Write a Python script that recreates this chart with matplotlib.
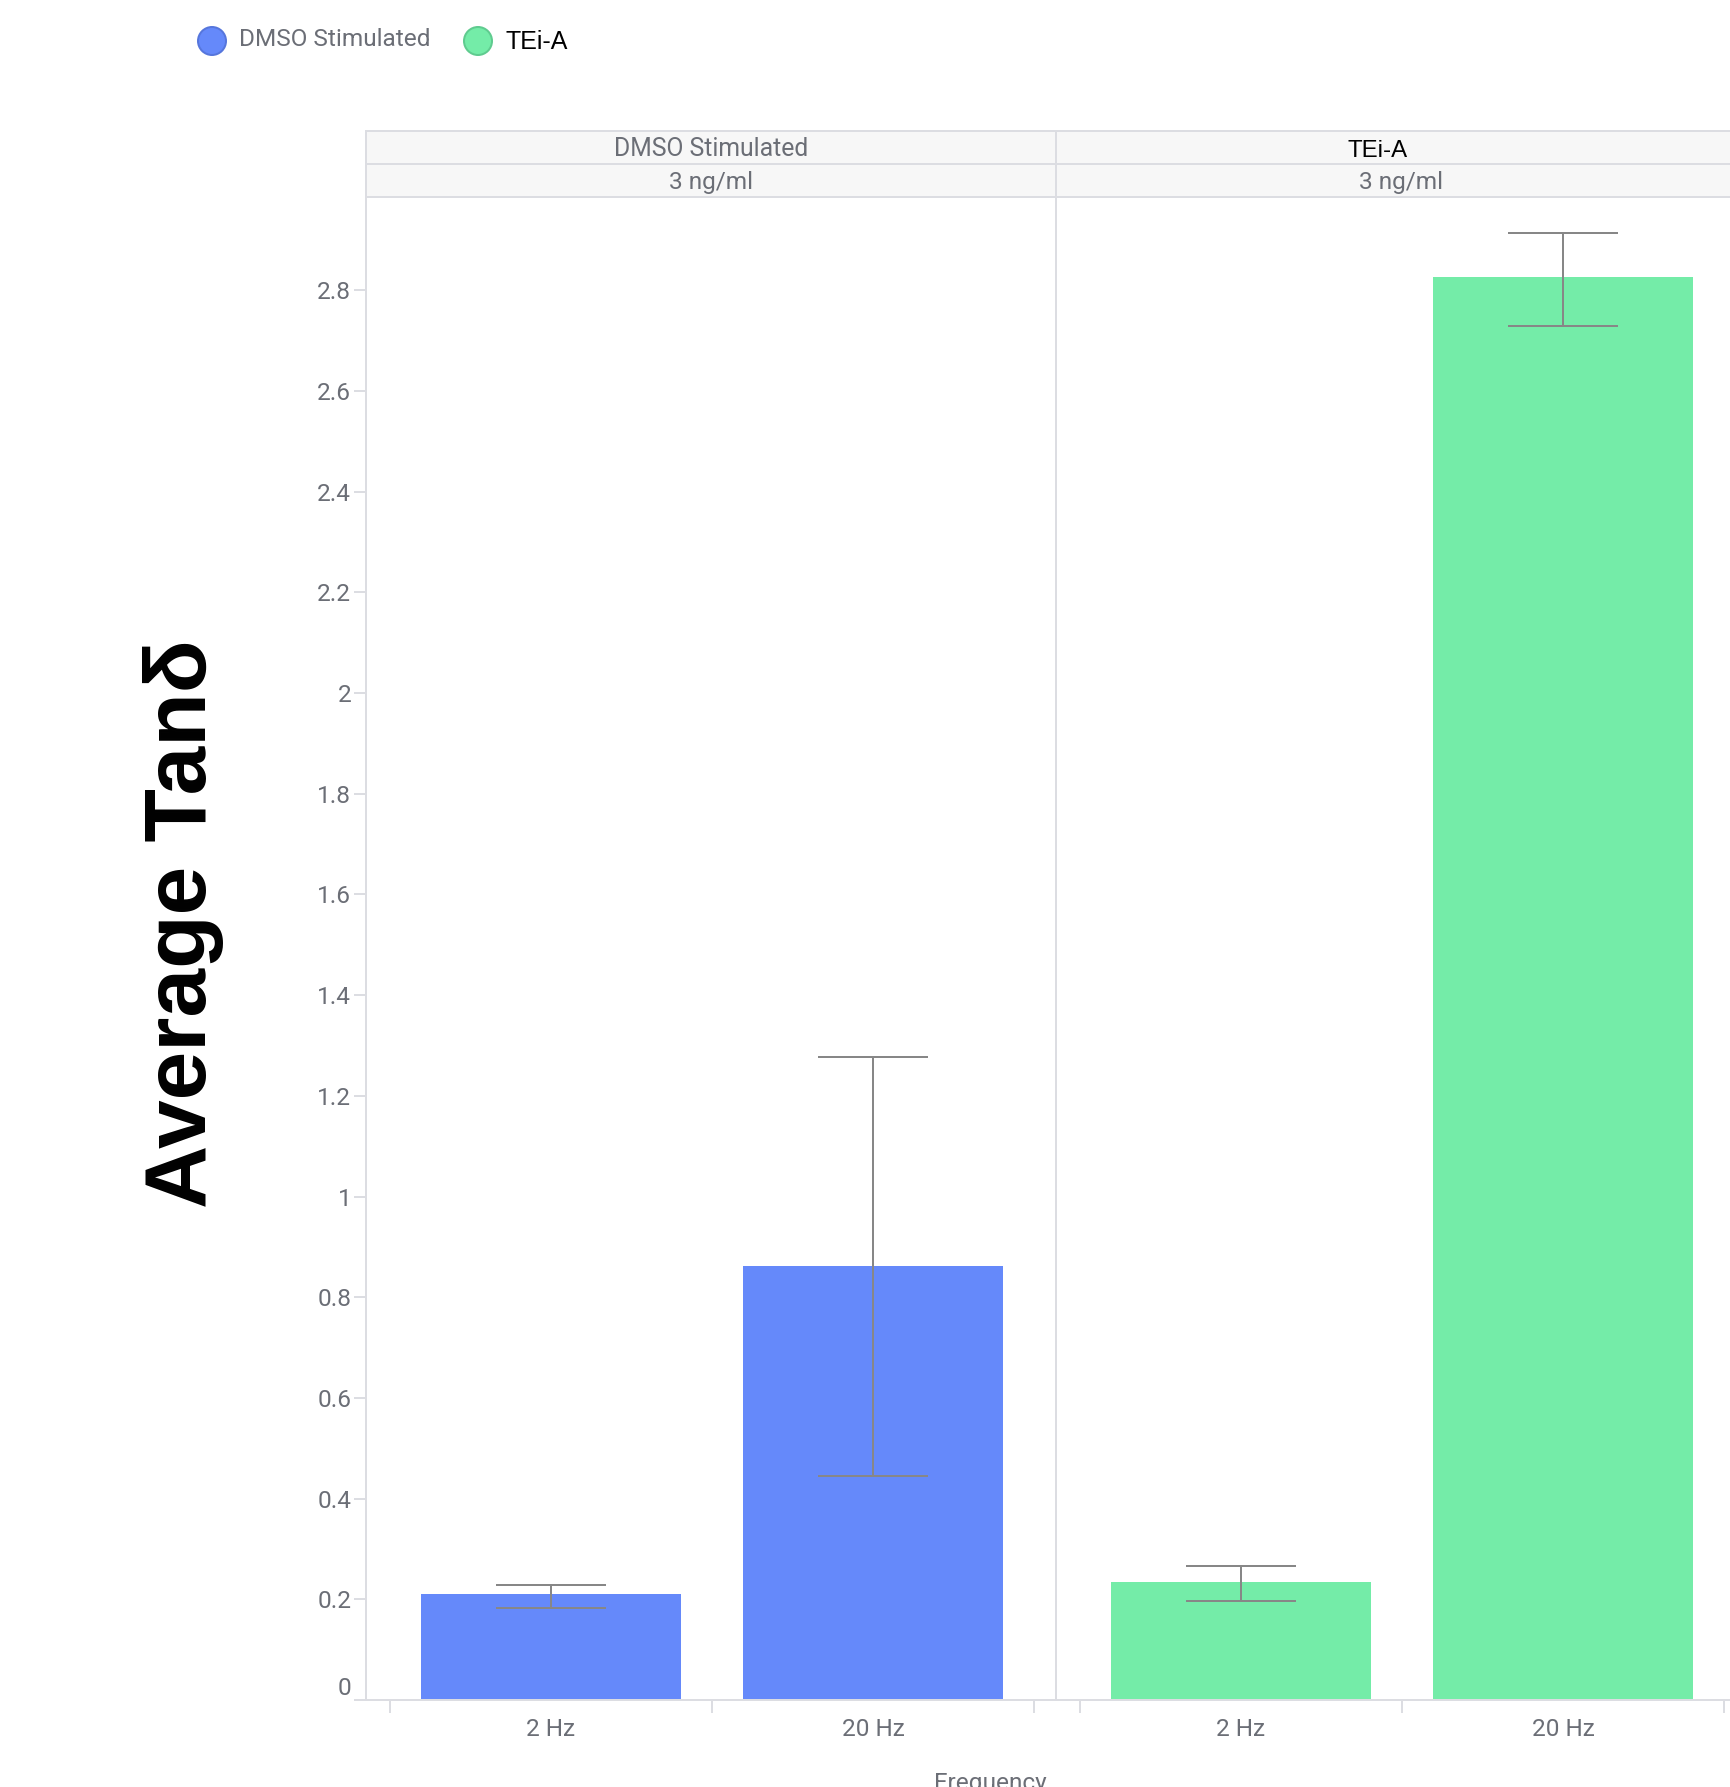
# Average Tan delta by frequency, faceted by treatment

import matplotlib.pyplot as plt
from matplotlib.patches import Circle, Rectangle
import numpy as np

############## data ############################################################
groups = ['DMSO Stimulated', 'TEi-A']
dose = ['3 ng/ml', '3 ng/ml']
freqs = ['2 Hz', '20 Hz']
dmso_mean = [0.210, 0.862]
dmso_lo = [0.183, 0.445]
dmso_hi = [0.228, 1.278]
tei_mean = [0.234, 2.826]
tei_lo = [0.196, 2.729]
tei_hi = [0.2655, 2.914]
yticks = [0, 0.2, 0.4, 0.6, 0.8, 1.0, 1.2, 1.4, 1.6, 1.8, 2.0, 2.2, 2.4, 2.6, 2.8]
################################################################################

colors = ['#6589fa', '#74eca8']
edges = ['#5676dc', '#5fcb8f']
W, H = 1730, 1787
grey_txt = '#6b6e76'
line_c = '#dcdde2'
px = 0.72  # points per pixel at dpi 100
fs = 17.6

fig = plt.figure(figsize=(W / 100, H / 100), dpi=100)

# panel boxes in pixels (left, top, right, bottom)
panels = [(366, 197, 1056, 1700), (1056, 197, 1746, 1700)]
series = [(dmso_mean, dmso_lo, dmso_hi), (tei_mean, tei_lo, tei_hi)]

axes = []
for i, (l, t, r, b) in enumerate(panels):
    ax = fig.add_axes([l / W, (H - b) / H, (r - l) / W, (b - t) / H])
    ax.set_zorder(1)
    mean, lo, hi = series[i]
    mean = np.array(mean)
    x = np.arange(len(freqs))
    ax.bar(x, mean, width=0.805, color=colors[i], zorder=2)
    ax.errorbar(x, mean, yerr=[mean - np.array(lo), np.array(hi) - mean],
                fmt='none', ecolor='#878787', elinewidth=2 * px,
                capsize=55 * px, capthick=2 * px, zorder=3)
    ax.set_xlim(-185 / 322., (690 - 185) / 322.)
    ax.set_ylim(0, 1503 / 503.5)
    for s in ax.spines.values():
        s.set_visible(False)
    ax.set_xticks(x)
    ax.set_xticklabels(freqs, fontsize=fs, color=grey_txt, family='Roboto')
    ax.set_xticks([-0.5, 0.5, 1.5], minor=True)
    ax.tick_params(axis='x', which='major', length=0, pad=13)
    ax.tick_params(axis='x', which='minor', length=13 * px, width=2 * px,
                   color=line_c, direction='out')
    if i == 0:
        ax.set_yticks(yticks)
        ax.set_yticklabels(['{:g}'.format(v) for v in yticks], fontsize=fs,
                           color=grey_txt, family='Roboto')
        ax.tick_params(axis='y', length=12 * px, width=2 * px, color=line_c,
                       pad=2)
        ax.get_yticklabels()[0].set_va('bottom')
    else:
        ax.set_yticks([])
    ax.patch.set_visible(False)
    axes.append(ax)

################ overlay in pixel coordinates ##################################
ov = fig.add_axes([0, 0, 1, 1])
ov.set_xlim(0, W)
ov.set_ylim(H, 0)
ov.axis('off')
ov.set_zorder(2)

# facet headers
for i, (l, t, r, b) in enumerate(panels):
    ov.add_patch(Rectangle((l, 131), r - l, 66, facecolor='#f7f7f7',
                           edgecolor='none'))
    ov.plot([l, r], [131, 131], color=line_c, lw=2 * px)
    ov.plot([l, r], [164, 164], color=line_c, lw=2 * px)
    ov.plot([l, r], [197, 197], color=line_c, lw=2 * px)
    ov.plot([l, l], [131, 1700], color=line_c, lw=2 * px)
    cx = (l + r) / 2
    if i == 0:
        ov.text(cx, 149, groups[i], ha='center', va='center', fontsize=17.8,
                color=grey_txt, family='Roboto')
    else:
        ov.text(cx - 23, 151, groups[i], ha='center', va='center',
                fontsize=17.3, color='black', family='Liberation Sans')
    ov.text(cx, 182, dose[i], ha='center', va='center', fontsize=fs,
            color=grey_txt, family='Roboto')

# x baseline
ov.plot([357, W], [1700, 1700], color=line_c, lw=2 * px)

ov.text(990, 1790, 'Frequency', ha='center', va='baseline', fontsize=fs,
        color=grey_txt, family='Roboto')

# legend
lx = [212, 478]
tx = [239, 505]
for i in range(2):
    ov.add_patch(Circle((lx[i], 41), 14, facecolor=colors[i],
                        edgecolor=edges[i], lw=2 * px))
ov.text(tx[0], 40, groups[0], ha='left', va='center', fontsize=fs,
        color=grey_txt, family='Roboto')
ov.text(tx[1], 42, groups[1], ha='left', va='center', fontsize=18,
        color='black', family='Liberation Sans')

# y label
ov.text(184, 924, 'Average Tanδ', rotation=90, ha='center', va='center',
        fontsize=63, fontweight='bold', color='black',
        family=['Liberation Sans', 'DejaVu Sans'])

plt.savefig('out.png', dpi=100)
